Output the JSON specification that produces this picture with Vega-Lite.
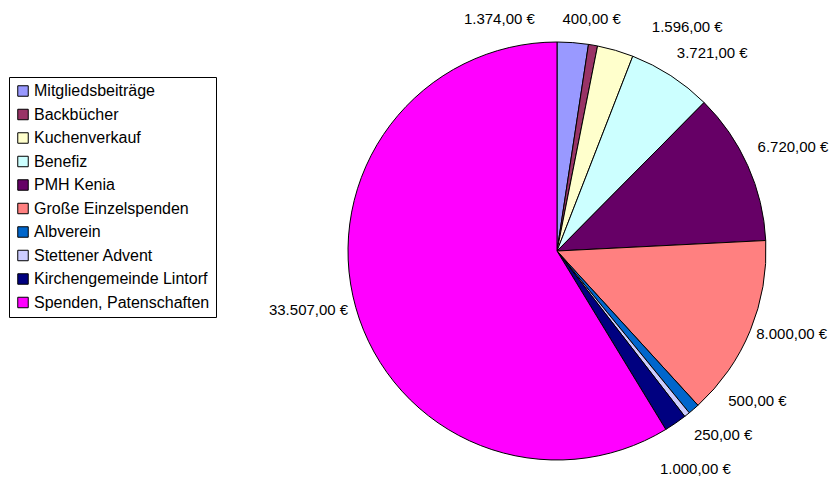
{
  "$schema": "https://vega.github.io/schema/vega-lite/v6.json",
  "autosize": "none",
  "width": 480,
  "height": 460,
  "padding": {"left": 317, "top": 21, "right": 43, "bottom": 0},
  "background": "white",
  "config": {"view": {"stroke": null}, "font": "Liberation Sans"},
  "data": {
    "values": [
      {"nr": 1, "kategorie": "Mitgliedsbeiträge", "betrag": 1374, "label": "1.374,00 €"},
      {"nr": 2, "kategorie": "Backbücher", "betrag": 400, "label": "400,00 €"},
      {"nr": 3, "kategorie": "Kuchenverkauf", "betrag": 1596, "label": "1.596,00 €"},
      {"nr": 4, "kategorie": "Benefiz", "betrag": 3721, "label": "3.721,00 €"},
      {"nr": 5, "kategorie": "PMH Kenia", "betrag": 6720, "label": "6.720,00 €"},
      {"nr": 6, "kategorie": "Große Einzelspenden", "betrag": 8000, "label": "8.000,00 €"},
      {"nr": 7, "kategorie": "Albverein", "betrag": 500, "label": "500,00 €"},
      {"nr": 8, "kategorie": "Stettener Advent", "betrag": 250, "label": "250,00 €"},
      {"nr": 9, "kategorie": "Kirchengemeinde Lintorf", "betrag": 1000, "label": "1.000,00 €"},
      {"nr": 10, "kategorie": "Spenden, Patenschaften", "betrag": 33507, "label": "33.507,00 €"}
    ]
  },
  "encoding": {
    "theta": {"field": "betrag", "type": "quantitative", "stack": true},
    "order": {"field": "nr", "type": "quantitative", "sort": "ascending"}
  },
  "layer": [
    {
      "mark": {"type": "arc", "outerRadius": 209, "stroke": "black", "strokeWidth": 1},
      "encoding": {
        "color": {
          "field": "kategorie",
          "type": "nominal",
          "sort": null,
          "scale": {
            "domain": ["Mitgliedsbeiträge", "Backbücher", "Kuchenverkauf", "Benefiz", "PMH Kenia", "Große Einzelspenden", "Albverein", "Stettener Advent", "Kirchengemeinde Lintorf", "Spenden, Patenschaften"],
            "range": ["#9999FF", "#993366", "#FFFFCC", "#CCFFFF", "#660066", "#FF8080", "#0066CC", "#CCCCFF", "#000080", "#FF00FF"]
          },
          "legend": {
            "title": null,
            "orient": "none",
            "legendX": -308,
            "legendY": 56,
            "strokeColor": "black",
            "fillColor": "white",
            "padding": 6,
            "symbolType": "square",
            "symbolSize": 110,
            "symbolStrokeColor": "black",
            "symbolStrokeWidth": 1,
            "symbolOpacity": 1,
            "labelFont": "Liberation Sans",
            "labelFontSize": 16,
            "labelColor": "black",
            "labelOffset": 3,
            "labelLimit": 400,
            "rowPadding": 7.5
          }
        }
      }
    },
    {"mark": {"type": "text", "radius": 230, "dx": -75, "dy": -3, "fontSize": 15, "color": "black"},
     "encoding": {"detail": {"field": "kategorie"}, "text": {"condition": {"test": "datum.nr === 1", "field": "label"}, "value": ""}}},
    {"mark": {"type": "text", "radius": 230, "dx": -5, "dy": -5, "fontSize": 15, "color": "black"},
     "encoding": {"detail": {"field": "kategorie"}, "text": {"condition": {"test": "datum.nr === 2", "field": "label"}, "value": ""}}},
    {"mark": {"type": "text", "radius": 230, "dx": 66, "dy": -3, "fontSize": 15, "color": "black"},
     "encoding": {"detail": {"field": "kategorie"}, "text": {"condition": {"test": "datum.nr === 3", "field": "label"}, "value": ""}}},
    {"mark": {"type": "text", "radius": 230, "dx": 30, "dy": -5, "fontSize": 15, "color": "black"},
     "encoding": {"detail": {"field": "kategorie"}, "text": {"condition": {"test": "datum.nr === 4", "field": "label"}, "value": ""}}},
    {"mark": {"type": "text", "radius": 230, "dx": 26, "dy": -10, "fontSize": 15, "color": "black"},
     "encoding": {"detail": {"field": "kategorie"}, "text": {"condition": {"test": "datum.nr === 5", "field": "label"}, "value": ""}}},
    {"mark": {"type": "text", "radius": 230, "dx": 22, "dy": -4, "fontSize": 15, "color": "black"},
     "encoding": {"detail": {"field": "kategorie"}, "text": {"condition": {"test": "datum.nr === 6", "field": "label"}, "value": ""}}},
    {"mark": {"type": "text", "radius": 230, "dx": 50, "dy": -24, "fontSize": 15, "color": "black"},
     "encoding": {"detail": {"field": "kategorie"}, "text": {"condition": {"test": "datum.nr === 7", "field": "label"}, "value": ""}}},
    {"mark": {"type": "text", "radius": 230, "dx": 23, "dy": 4, "fontSize": 15, "color": "black"},
     "encoding": {"detail": {"field": "kategorie"}, "text": {"condition": {"test": "datum.nr === 8", "field": "label"}, "value": ""}}},
    {"mark": {"type": "text", "radius": 230, "dx": 8, "dy": 29, "fontSize": 15, "color": "black"},
     "encoding": {"detail": {"field": "kategorie"}, "text": {"condition": {"test": "datum.nr === 9", "field": "label"}, "value": ""}}},
    {"mark": {"type": "text", "radius": 230, "dx": -27, "dy": -3, "fontSize": 15, "color": "black"},
     "encoding": {"detail": {"field": "kategorie"}, "text": {"condition": {"test": "datum.nr === 10", "field": "label"}, "value": ""}}}
  ]
}
